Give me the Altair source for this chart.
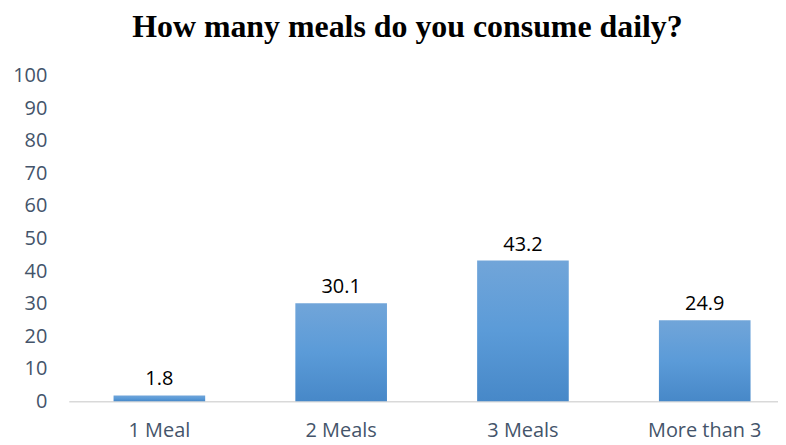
import altair as alt
import pandas as pd

categories = ["1 Meal", "2 Meals", "3 Meals", "More than 3"]
values = [1.8, 30.1, 43.2, 24.9]
labels = ["1.8", "30.1", "43.2", "24.9"]
y_ticks = [0, 10, 20, 30, 40, 50, 60, 70, 80, 90, 100]

df = pd.DataFrame({"cat": categories, "val": values, "lab": labels})

x_enc = alt.X(
    "cat:N",
    sort=categories,
    title=None,
    scale=alt.Scale(paddingInner=0.496, paddingOuter=0.1987, align=0.62),
    axis=alt.Axis(
        labelAngle=0,
        labelFont="Open Sans",
        labelFontSize=20,
        labelColor="#44546A",
        labelPadding=19,
        labelOverlap=False,
        ticks=False,
        domainColor="#D9D9D9",
        domainWidth=1.5,
        grid=False,
    ),
)
y_enc = alt.Y(
    "val:Q",
    title=None,
    scale=alt.Scale(domain=[0, 100], nice=False),
    axis=alt.Axis(
        values=y_ticks,
        tickCount=11,
        labelFont="Open Sans",
        labelFontSize=20,
        labelColor="#44546A",
        labelPadding=22,
        labelOverlap=False,
        labelFlush=False,
        ticks=False,
        domain=False,
        grid=False,
    ),
)

gradient = alt.Gradient(
    gradient="linear",
    x1=0, y1=0, x2=0, y2=1,
    stops=[
        alt.GradientStop(color="#71A5D9", offset=0),
        alt.GradientStop(color="#5B9BD8", offset=0.5),
        alt.GradientStop(color="#4788C8", offset=1),
    ],
)

base = alt.Chart(df).encode(x=x_enc, y=y_enc)

bars = base.mark_bar(color=gradient)

text = base.mark_text(
    font="Open Sans", fontSize=20, color="#000000", baseline="alphabetic", dy=-10
).encode(text="lab:N")

chart = (
    alt.layer(bars, text)
    .properties(
        width=712,
        height=327,
        padding={"left": 61, "top": 67, "right": 0, "bottom": 44},
        autosize=alt.AutoSizeParams(type="none"),
        title=alt.TitleParams(
            "How many meals do you consume daily?",
            font="Liberation Serif",
            fontSize=32,
            fontWeight="bold",
            color="#000000",
            anchor="middle",
            dx=-16,
            offset=22,
        ),
    )
    .configure_view(stroke=None)
)

chart.save("out.html", embed_options={"renderer": "svg", "actions": False})
